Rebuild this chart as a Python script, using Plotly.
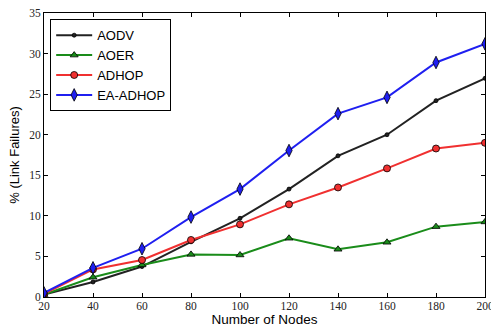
import plotly.graph_objects as go

nodes = [20, 40, 60, 80, 100, 120, 140, 160, 180, 200]
aodv = [0.3, 1.85, 3.75, 6.8, 9.7, 13.3, 17.4, 20.0, 24.2, 26.95]
aoer = [0.3, 2.43, 3.95, 5.25, 5.18, 7.24, 5.88, 6.74, 8.67, 9.25]
adhop = [0.4, 3.4, 4.56, 7.03, 8.95, 11.42, 13.5, 15.85, 18.3, 19.0]
ea_adhop = [0.5, 3.6, 5.95, 9.85, 13.3, 18.05, 22.6, 24.6, 28.9, 31.2]

series = [
    ("AODV", aodv, "#222222", "circle", 4),
    ("AOER", aoer, "#1a8c1a", "triangle-up", 7),
    ("ADHOP", adhop, "#f03030", "circle", 7),
    ("EA-ADHOP", ea_adhop, "#1f1ff0", "diamond-tall", 9),
]

fig = go.Figure()
for name, vals, color, sym, size in series:
    fig.add_trace(go.Scatter(
        x=nodes, y=vals, name=name, mode="lines+markers",
        line=dict(color=color, width=2),
        marker=dict(symbol=sym, size=size, color=color,
                    line=dict(color="#000000", width=0.8)),
    ))

axis_common = dict(
    showgrid=False, zeroline=False, showline=True, linecolor="#000000",
    linewidth=1, mirror="ticks", ticks="inside", ticklen=4, tickcolor="#000000",
    tickfont=dict(family="Liberation Serif", size=11.5, color="#222222"),
    automargin=False, ticklabeloverflow="allow",
)

fig.update_layout(
    width=491, height=327,
    margin=dict(l=44, r=6, t=13, b=30),
    paper_bgcolor="white", plot_bgcolor="white",
    showlegend=True,
    legend=dict(
        x=0.014, y=0.978, xanchor="left", yanchor="top",
        bordercolor="#000000", borderwidth=1, bgcolor="white",
        font=dict(family="Liberation Sans", size=13, color="#000000"),
        itemwidth=36, tracegroupgap=0,
    ),
    xaxis=dict(range=[20, 200], tickvals=nodes, ticklabelstandoff=-2,
               title=dict(text="Number of Nodes", standoff=2,
                          font=dict(family="Liberation Sans", size=13.5, color="#000000")),
               **axis_common),
    yaxis=dict(range=[0, 35], tickvals=[0, 5, 10, 15, 20, 25, 30, 35],
               title=dict(text="% (Link Failures)", standoff=6,
                          font=dict(family="Liberation Sans", size=13, color="#000000")),
               **axis_common),
)

fig.write_html("out.html", config={"displayModeBar": False},
               post_script="document.body.style.margin='0';document.body.style.overflow='hidden';")
